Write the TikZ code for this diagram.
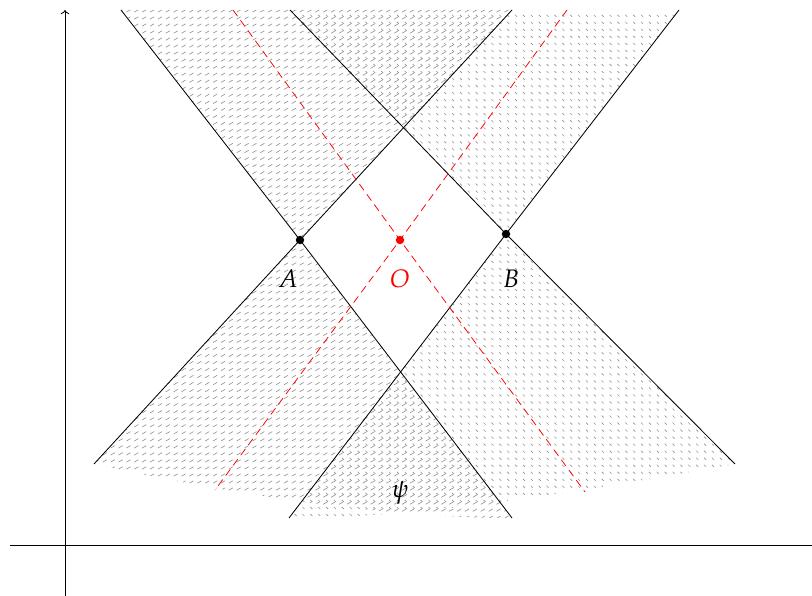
\documentclass[tikz,border=0pt]{standalone}
\usepackage{mathpazo}
\usetikzlibrary{patterns, arrows.meta}

% tick patterns for the two cones
\pgfdeclarepatternformonly{ticksA}{\pgfpoint{-1pt}{-1pt}}{\pgfpoint{6.5pt}{6.5pt}}{\pgfpoint{5.6pt}{5pt}}{%
  \pgfsetlinewidth{0.45pt}
  \pgfpathmoveto{\pgfpoint{0.3pt}{0.2pt}}
  \pgfpathlineto{\pgfpoint{3.2pt}{1.9pt}}
  \pgfusepath{stroke}}
\pgfdeclarepatternformonly{ticksB}{\pgfpoint{-1pt}{-1pt}}{\pgfpoint{6.5pt}{6.5pt}}{\pgfpoint{5.6pt}{5pt}}{%
  \pgfsetlinewidth{0.45pt}
  \pgfpathmoveto{\pgfpoint{2.3pt}{3.3pt}}
  \pgfpathlineto{\pgfpoint{3.7pt}{1.9pt}}
  \pgfusepath{stroke}}

\tikzset{
    coneA/.style={pattern=ticksA, pattern color=gray!85},
    coneB/.style={pattern=ticksB, pattern color=gray!85},
    coneedge/.style={draw=black, line width=0.6pt},
    nullray/.style={draw=red, line width=0.55pt, dash pattern=on 5.5pt off 3.5pt},
    axis/.style={draw=black, line width=0.6pt},
    event/.style={circle, fill=black, inner sep=0pt, minimum size=6pt},
    eventlabel/.style={font=\fontsize{18pt}{21pt}\selectfont}
}

\begin{document}
\begin{tikzpicture}[x=0.025cm, y=-0.025cm]
\useasboundingbox (0,0) rectangle (812,596);

% ── Events ───────────────────────────────────────────────────────────────────
\coordinate (A) at (300,240);
\coordinate (B) at (506,234);
\coordinate (O) at (400,240);

% ── Cone ends ────────────────────────────────────────────────────────────────
\coordinate (a1) at (121,10);  \coordinate (a2) at (512,10);
\coordinate (a3) at (94,464);  \coordinate (a4) at (512,518);
\coordinate (b1) at (290,10);  \coordinate (b2) at (679,10);
\coordinate (b3) at (289,518); \coordinate (b4) at (735,464);
\coordinate (o1) at (233,10);  \coordinate (o2) at (567,10);
\coordinate (o3) at (215,490); \coordinate (o4) at (585,492);

% ── Shaded cones ─────────────────────────────────────────────────────────────
\fill[coneA] (a1) -- (A) -- (a2) -- cycle;
\fill[coneA] (A) -- (a3) .. controls (220,492) and (380,518) .. (a4) -- cycle;
\fill[coneB] (b1) -- (B) -- (b2) -- cycle;
\fill[coneB] (B) -- (b3) .. controls (420,518) and (580,492) .. (b4) -- cycle;

% ── Cone edges ───────────────────────────────────────────────────────────────
\draw[coneedge] (a1) -- (A) -- (a4);
\draw[coneedge] (a2) -- (A) -- (a3);
\draw[coneedge] (b1) -- (B) -- (b4);
\draw[coneedge] (b2) -- (B) -- (b3);

% ── Red null rays through O ──────────────────────────────────────────────────
\draw[nullray] (o1) -- (O) -- (o4);
\draw[nullray] (o2) -- (O) -- (o3);

% ── Points and labels ────────────────────────────────────────────────────────
\node[event] (pA) at (A) {};
\node[event] (pB) at (B) {};
\node[event, fill=red] (pO) at (O) {};
\node[eventlabel] (lA) at (288,279) {$A$};
\node[eventlabel, text=red] (lO) at (400,279) {$O$};
\node[eventlabel] (lB) at (511,279) {$B$};
\node[eventlabel] (lpsi) at (400,493) {$\psi$};

% ── Axes ─────────────────────────────────────────────────────────────────────
\coordinate (yfoot) at (65,610);
\coordinate (ytop) at (65,10);
\coordinate (xfoot) at (10,545);
\coordinate (xtop) at (830,545);
\draw[axis, -{To}] (yfoot) -- (ytop);
\draw[axis, -{To}] (xfoot) -- (xtop);

\end{tikzpicture}
\end{document}
